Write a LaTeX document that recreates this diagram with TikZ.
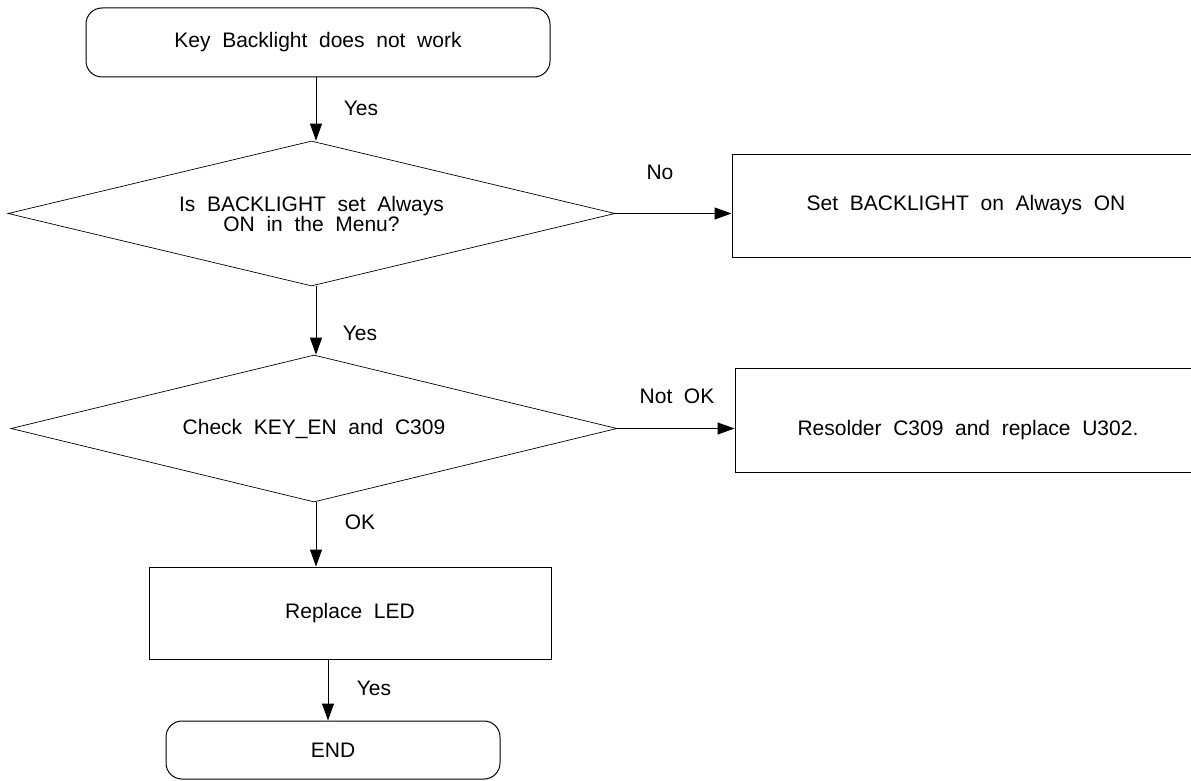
\documentclass[tikz,border=0pt]{standalone}
\usepackage{fontspec}
\setmainfont{Liberation Sans}[WordSpace=2]
\usetikzlibrary{shapes.geometric,arrows.meta}
\begin{document}
\begin{tikzpicture}[x=1pt,y=-1pt,
  every node/.style={font=\fontsize{21}{20}\selectfont, inner sep=0pt},
  box/.style={draw, line width=1pt, rectangle, align=center},
  term/.style={box, rounded corners=16pt},
  dec/.style={draw, line width=0.7pt, diamond, aspect=4.2, align=center},
  arr/.style={line width=1pt, -{Triangle[length=17pt,width=12pt]}}]
\useasboundingbox (0,0) rectangle (1191,781);
% nodes
\node[term, minimum width=464pt, minimum height=69pt] (start) at (318,42.5) {Key Backlight does not work};
\node[dec, minimum width=607pt, minimum height=145pt] (d1) at (311.5,213.5) {Is BACKLIGHT set Always\\ON in the Menu?};
\node[box, minimum width=468pt, minimum height=103pt] (set) at (966,205.5) {Set BACKLIGHT on Always ON};
\node[dec, minimum width=606pt, minimum height=147pt] (d2) at (314,428.5) {Check KEY\_EN and C309};
\node[box, minimum width=466pt, minimum height=104pt] (res) at (968,420) {\raisebox{-15.5pt}[0pt][0pt]{Resolder C309 and replace U302.}};
\node[box, minimum width=402pt, minimum height=92pt] (led) at (350,613) {Replace LED};
\node[term, minimum width=334pt, minimum height=58pt] (end) at (333,750) {END};
% labels
\node (y1) at (361,108) {Yes};
\node (y2) at (360,333) {Yes};
\node (no) at (660,172) {No};
\node (nok) at (677,396) {Not OK};
\node (ok) at (360,522) {OK};
\node (y3) at (374,688) {Yes};
% connectors
\draw[arr] (start.south -| 316,0) -- (d1.north -| 316,0);
\draw[arr] (d1.south -| 316,0) -- (d2.north -| 316,0);
\draw[arr] (d1.east) -- (set.west |- d1.east);
\draw[arr] (d2.east) -- (res.west |- d2.east);
\draw[arr] (d2.south -| 316,0) -- (led.north -| 316,0);
\draw[arr] (led.south -| 328,0) -- (end.north -| 328,0);
\end{tikzpicture}
\end{document}
